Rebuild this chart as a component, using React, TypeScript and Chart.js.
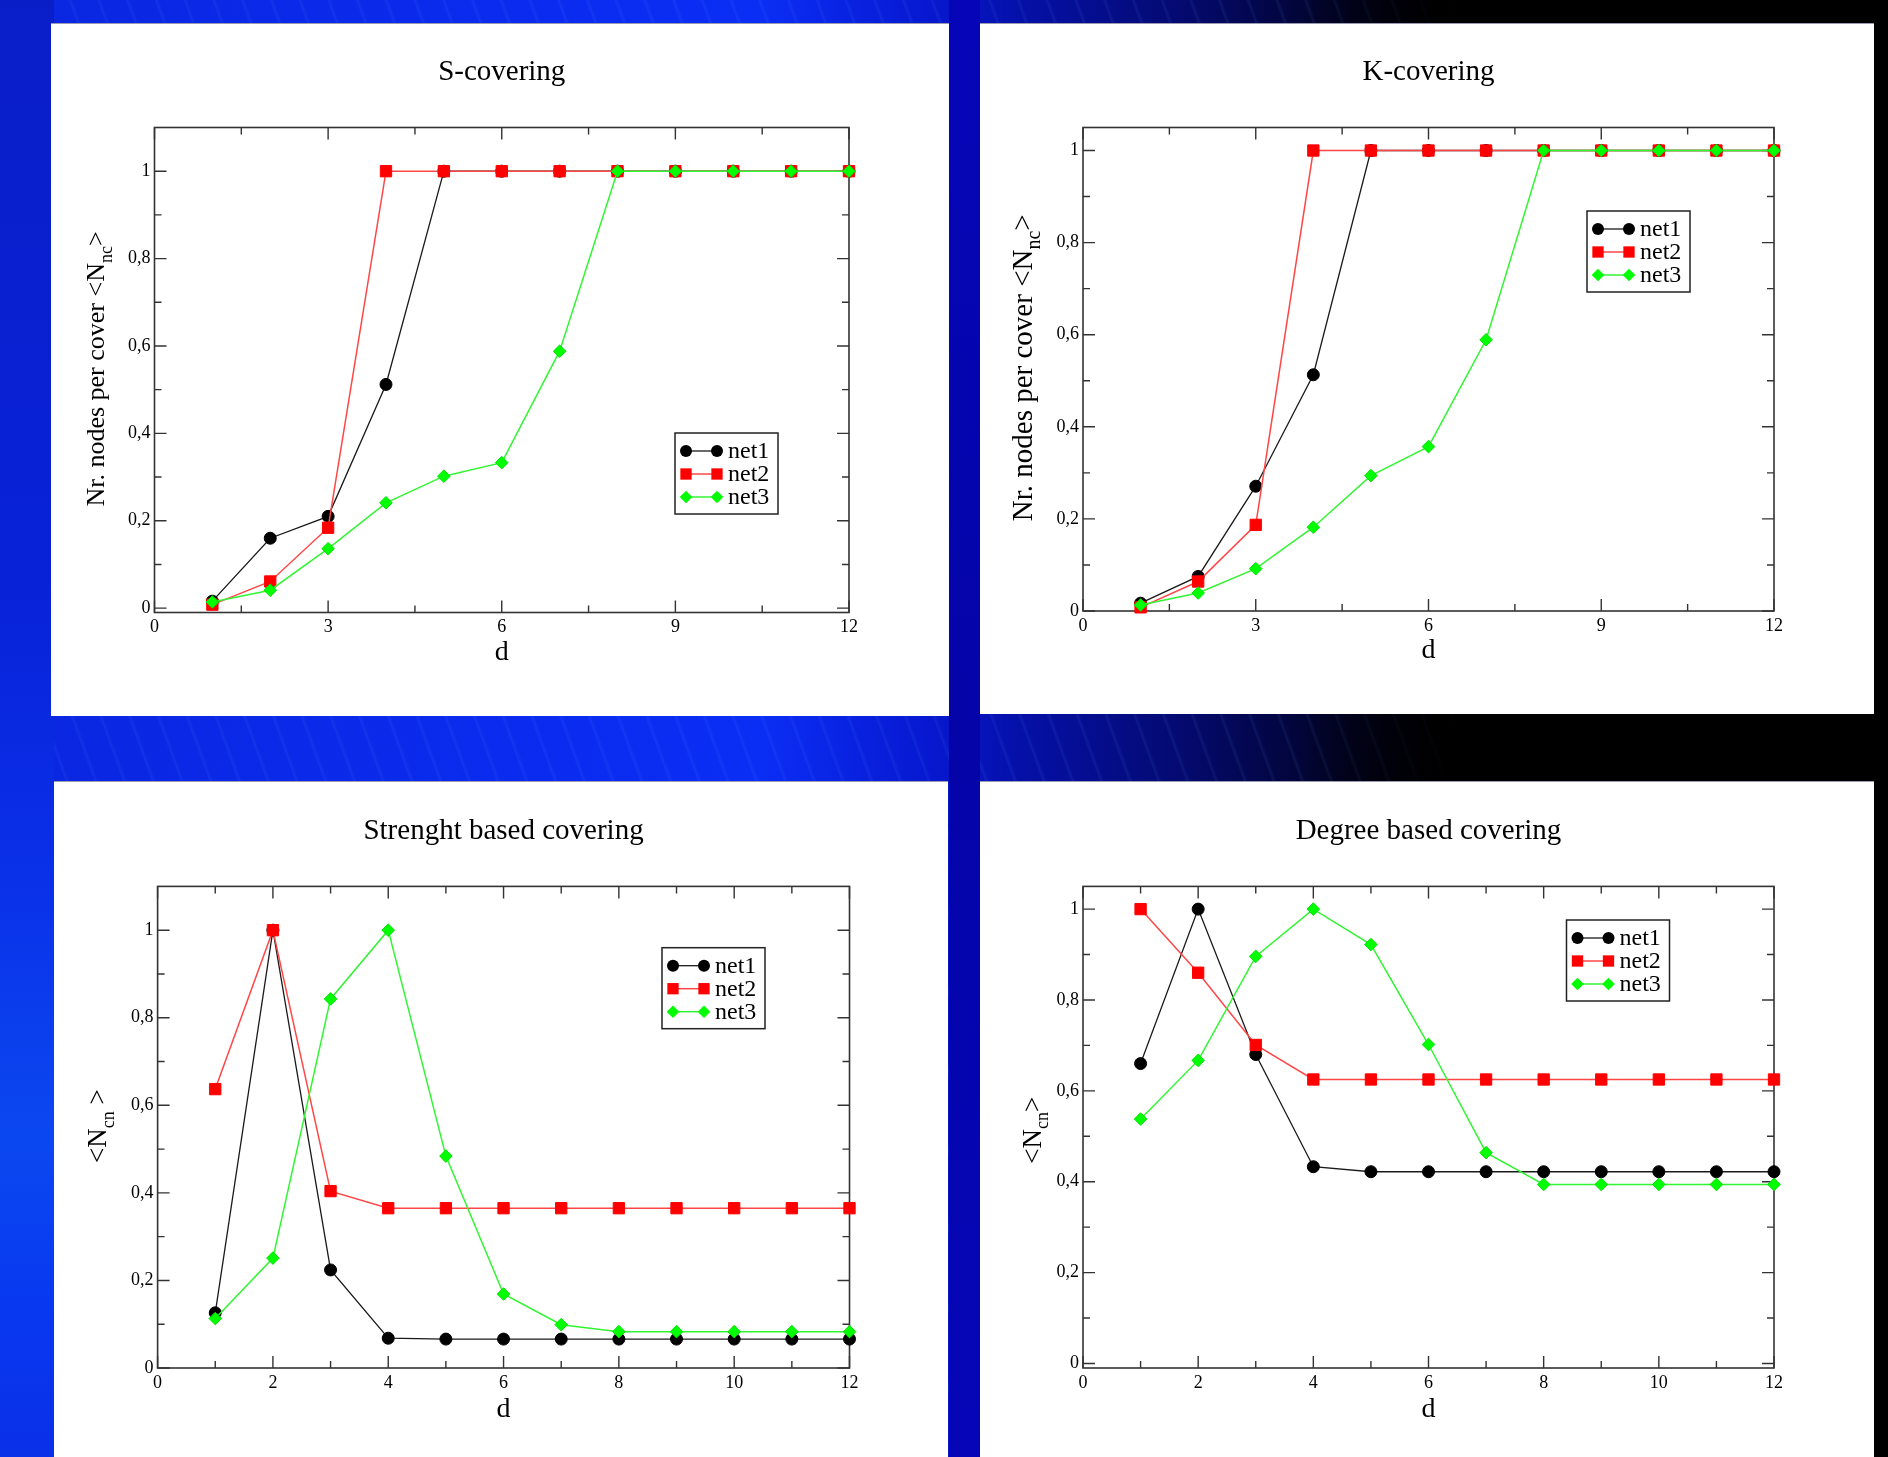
import React, { useEffect, useRef } from 'react';
import { Chart, registerables } from 'chart.js';

Chart.register(...registerables);

const FONT = "'Liberation Serif', 'Times New Roman', Times, serif";

// ---------- data ----------
const D_VALUES = [1, 2, 3, 4, 5, 6, 7, 8, 9, 10, 11, 12];
const SERIES_NAMES = ['net1', 'net2', 'net3'];

const S_NET1 = [0.016, 0.16, 0.21, 0.512, 1, 1, 1, 1, 1, 1, 1, 1];
const S_NET2 = [0.008, 0.061, 0.184, 1, 1, 1, 1, 1, 1, 1, 1, 1];
const S_NET3 = [0.014, 0.041, 0.136, 0.241, 0.302, 0.333, 0.588, 1, 1, 1, 1, 1];

const K_NET1 = [0.017, 0.075, 0.271, 0.513, 1, 1, 1, 1, 1, 1, 1, 1];
const K_NET2 = [0.008, 0.064, 0.187, 1, 1, 1, 1, 1, 1, 1, 1, 1];
const K_NET3 = [0.013, 0.039, 0.092, 0.182, 0.294, 0.357, 0.589, 1, 1, 1, 1, 1];

const ST_NET1 = [0.126, 1, 0.224, 0.068, 0.066, 0.066, 0.066, 0.066, 0.066, 0.066, 0.066, 0.066];
const ST_NET2 = [0.637, 1, 0.404, 0.365, 0.365, 0.365, 0.365, 0.365, 0.365, 0.365, 0.365, 0.365];
const ST_NET3 = [0.113, 0.251, 0.843, 1, 0.484, 0.169, 0.099, 0.083, 0.083, 0.083, 0.083, 0.083];

const DG_NET1 = [0.66, 1, 0.68, 0.433, 0.422, 0.422, 0.422, 0.422, 0.422, 0.422, 0.422, 0.422];
const DG_NET2 = [1, 0.86, 0.701, 0.625, 0.625, 0.625, 0.625, 0.625, 0.625, 0.625, 0.625, 0.625];
const DG_NET3 = [0.538, 0.667, 0.896, 1, 0.922, 0.702, 0.464, 0.394, 0.394, 0.394, 0.394, 0.394];

const X_TICKS_TOP = [0, 3, 6, 9, 12];
const X_TICK_LABELS_TOP = ['0', '3', '6', '9', '12'];
const X_MINOR_TOP = [1.5, 4.5, 7.5, 10.5];
const X_TICKS_BOTTOM = [0, 2, 4, 6, 8, 10, 12];
const X_TICK_LABELS_BOTTOM = ['0', '2', '4', '6', '8', '10', '12'];
const X_MINOR_BOTTOM = [1, 3, 5, 7, 9, 11];
const Y_TICKS = [0, 0.2, 0.4, 0.6, 0.8, 1];
const Y_TICK_LABELS = ['0', '0,2', '0,4', '0,6', '0,8', '1'];
const Y_MINOR = [0.1, 0.3, 0.5, 0.7, 0.9];

const X_TITLE = 'd';

// ---------- styles ----------
const STYLE = [
  { shape: 'circle', r: 6, fill: '#000000', edge: '#000000', line: '#1a1a1a', lw: 1.3 },
  { shape: 'rect', r: 8, fill: '#ff0000', edge: '#ff0000', line: 'rgb(255,70,70)', lw: 1.5 },
  { shape: 'rectRot', r: 6.3, fill: '#00ff00', edge: '#00e000', line: 'rgb(50,245,50)', lw: 1.5 },
];

type Part = { text: string; sub?: boolean };

type PanelCfg = {
  left: number; top: number; width: number; height: number;
  pad: { left: number; right: number; top: number; bottom: number };
  title: string;
  yParts: Part[];
  yFont: number; yDx: number; yDy: number;
  xLabelDy: number;
  xMajor: number[]; xLabels: string[]; xMinor: number[];
  yMin: number; yMax: number;
  series: number[][];
  legendDx: number; legendDy: number;
};

const PANELS: PanelCfg[] = [
  {
    left: 51, top: 23, width: 898, height: 693,
    pad: { left: 103.5, right: 100, top: 103.5, bottom: 103.5 },
    title: 'S-covering',
    yParts: [{ text: 'Nr. nodes per cover <N' }, { text: 'nc', sub: true }, { text: '>' }],
    yFont: 26, yDx: -57, yDy: -1, xLabelDy: 40,
    xMajor: X_TICKS_TOP, xLabels: X_TICK_LABELS_TOP, xMinor: X_MINOR_TOP,
    yMin: -0.01, yMax: 1.1,
    series: [S_NET1, S_NET2, S_NET3],
    legendDx: 520.5, legendDy: 305.5,
  },
  {
    left: 980, top: 23, width: 894, height: 691,
    pad: { left: 103, right: 100, top: 103.5, bottom: 103 },
    title: 'K-covering',
    yParts: [{ text: 'Nr. nodes per cover <N' }, { text: 'nc', sub: true }, { text: '>' }],
    yFont: 29, yDx: -58.5, yDy: -1.5, xLabelDy: 40,
    xMajor: X_TICKS_TOP, xLabels: X_TICK_LABELS_TOP, xMinor: X_MINOR_TOP,
    yMin: 0, yMax: 1.05,
    series: [K_NET1, K_NET2, K_NET3],
    legendDx: 504, legendDy: 83.5,
  },
  {
    left: 54, top: 781, width: 894, height: 676,
    pad: { left: 103.6, right: 98.5, top: 104.4, bottom: 89 },
    title: 'Strenght based covering',
    yParts: [{ text: '<N' }, { text: 'cn', sub: true }, { text: ' >' }],
    yFont: 27, yDx: -58.3, yDy: -1, xLabelDy: 41.5,
    xMajor: X_TICKS_BOTTOM, xLabels: X_TICK_LABELS_BOTTOM, xMinor: X_MINOR_BOTTOM,
    yMin: 0, yMax: 1.1,
    series: [ST_NET1, ST_NET2, ST_NET3],
    legendDx: 504.4, legendDy: 61.3,
  },
  {
    left: 980, top: 781, width: 894, height: 676,
    pad: { left: 103, right: 100, top: 104.4, bottom: 89 },
    title: 'Degree based covering',
    yParts: [{ text: '<N' }, { text: 'cn', sub: true }, { text: '>' }],
    yFont: 27, yDx: -49.5, yDy: 3, xLabelDy: 41.5,
    xMajor: X_TICKS_BOTTOM, xLabels: X_TICK_LABELS_BOTTOM, xMinor: X_MINOR_BOTTOM,
    yMin: -0.01, yMax: 1.05,
    series: [DG_NET1, DG_NET2, DG_NET3],
    legendDx: 483.5, legendDy: 33.6,
  },
];

function drawMarker(ctx: CanvasRenderingContext2D, shape: string, x: number, y: number, r: number, fill: string) {
  ctx.fillStyle = fill;
  ctx.beginPath();
  if (shape === 'circle') {
    ctx.arc(x, y, r, 0, Math.PI * 2);
  } else if (shape === 'rect') {
    const s = r * Math.SQRT1_2;
    ctx.rect(x - s, y - s, 2 * s, 2 * s);
  } else {
    ctx.moveTo(x - r, y);
    ctx.lineTo(x, y - r);
    ctx.lineTo(x + r, y);
    ctx.lineTo(x, y + r);
    ctx.closePath();
  }
  ctx.fill();
}

function makeDeco(cfg: PanelCfg) {
  return {
    id: 'deco',
    beforeDatasetsDraw(chart: any) {
      const { ctx, chartArea: a, scales } = chart;
      ctx.save();
      ctx.strokeStyle = '#333';
      ctx.lineWidth = 1.6;
      ctx.strokeRect(a.left, a.top, a.right - a.left, a.bottom - a.top);
      ctx.lineWidth = 1.4;
      const xt = (vals: number[], len: number) => {
        vals.forEach((v) => {
          const px = scales.x.getPixelForValue(v);
          ctx.beginPath();
          ctx.moveTo(px, a.bottom); ctx.lineTo(px, a.bottom - len);
          ctx.moveTo(px, a.top); ctx.lineTo(px, a.top + len);
          ctx.stroke();
        });
      };
      const yt = (vals: number[], len: number) => {
        vals.forEach((v) => {
          const py = scales.y.getPixelForValue(v);
          ctx.beginPath();
          ctx.moveTo(a.left, py); ctx.lineTo(a.left + len, py);
          ctx.moveTo(a.right, py); ctx.lineTo(a.right - len, py);
          ctx.stroke();
        });
      };
      xt(cfg.xMajor, 12); xt(cfg.xMinor, 7);
      yt(Y_TICKS, 12); yt(Y_MINOR, 7);
      ctx.restore();
    },
    afterDraw(chart: any) {
      const { ctx, chartArea: a } = chart;
      ctx.save();
      ctx.fillStyle = '#000';
      // title
      ctx.font = `29px ${FONT}`;
      ctx.textAlign = 'center';
      ctx.textBaseline = 'middle';
      ctx.fillText(cfg.title, (a.left + a.right) / 2, a.top - 55.5);
      // x title
      ctx.font = `28px ${FONT}`;
      ctx.fillText(X_TITLE, (a.left + a.right) / 2, a.bottom + cfg.xLabelDy);
      // y title with subscript
      const main = `${cfg.yFont}px ${FONT}`;
      const sub = `${Math.round(cfg.yFont * 0.68)}px ${FONT}`;
      ctx.save();
      ctx.translate(a.left + cfg.yDx, (a.top + a.bottom) / 2 + cfg.yDy);
      ctx.rotate(-Math.PI / 2);
      ctx.textAlign = 'left';
      let total = 0;
      cfg.yParts.forEach((p) => { ctx.font = p.sub ? sub : main; total += ctx.measureText(p.text).width; });
      let x = -total / 2;
      cfg.yParts.forEach((p) => {
        ctx.font = p.sub ? sub : main;
        ctx.fillText(p.text, x, p.sub ? cfg.yFont * 0.36 : 0);
        x += ctx.measureText(p.text).width;
      });
      ctx.restore();
      // legend
      const lx = a.left + cfg.legendDx;
      const ly = a.top + cfg.legendDy;
      const lw = 103, lh = 81;
      ctx.fillStyle = '#fff';
      ctx.fillRect(lx, ly, lw, lh);
      ctx.strokeStyle = '#222';
      ctx.lineWidth = 1.5;
      ctx.strokeRect(lx, ly, lw, lh);
      const rows = [18, 41, 64];
      SERIES_NAMES.forEach((name, i) => {
        const st = STYLE[i];
        const y = ly + rows[i];
        ctx.strokeStyle = st.line;
        ctx.lineWidth = st.lw;
        ctx.beginPath();
        ctx.moveTo(lx + 11, y); ctx.lineTo(lx + 42, y);
        ctx.stroke();
        drawMarker(ctx, st.shape, lx + 11, y, st.r, st.fill);
        drawMarker(ctx, st.shape, lx + 42, y, st.r, st.fill);
        ctx.fillStyle = '#000';
        ctx.font = `24px ${FONT}`;
        ctx.textAlign = 'left';
        ctx.textBaseline = 'middle';
        ctx.fillText(name, lx + 53, y + 1);
      });
      ctx.restore();
    },
  };
}

function Panel({ cfg }: { cfg: PanelCfg }) {
  const ref = useRef<HTMLCanvasElement | null>(null);
  useEffect(() => {
    const canvas = ref.current;
    if (!canvas) return;
    const datasets = cfg.series.map((vals, i) => ({
      label: SERIES_NAMES[i],
      data: D_VALUES.map((d, j) => ({ x: d, y: vals[j] })),
      borderColor: STYLE[i].line,
      borderWidth: STYLE[i].lw,
      pointStyle: STYLE[i].shape,
      pointRadius: STYLE[i].r,
      pointBackgroundColor: STYLE[i].fill,
      pointBorderColor: STYLE[i].edge,
      pointBorderWidth: 1,
      tension: 0,
      fill: false,
      clip: false,
      order: 3 - i,
    }));
    const tickFont = { family: FONT, size: 18 };
    const chart = new Chart(canvas, {
      type: 'line',
      data: { datasets } as any,
      options: {
        animation: false,
        responsive: false,
        maintainAspectRatio: false,
        events: [],
        layout: { padding: { left: 0, right: cfg.pad.right, top: cfg.pad.top, bottom: 0 } },
        plugins: { legend: { display: false }, title: { display: false }, tooltip: { enabled: false } },
        scales: {
          x: {
            type: 'linear', min: 0, max: 12,
            grid: { display: false, drawTicks: false, tickLength: 0 },
            border: { display: false },
            afterFit: (s: any) => { s.height = cfg.pad.bottom; },
            afterBuildTicks: (s: any) => { s.ticks = cfg.xMajor.map((v) => ({ value: v })); },
            ticks: {
              font: tickFont, color: '#000', padding: 4, maxRotation: 0, autoSkip: false,
              callback: (_v: any, i: number) => cfg.xLabels[i],
            },
          },
          y: {
            type: 'linear', min: cfg.yMin, max: cfg.yMax,
            grid: { display: false, drawTicks: false, tickLength: 0 },
            border: { display: false },
            afterFit: (s: any) => { s.width = cfg.pad.left; },
            afterBuildTicks: (s: any) => { s.ticks = Y_TICKS.map((v) => ({ value: v })); },
            ticks: {
              font: tickFont, color: '#000', padding: 4, autoSkip: false,
              callback: (_v: any, i: number) => Y_TICK_LABELS[i],
            },
          },
        },
      } as any,
      plugins: [makeDeco(cfg)],
    });
    return () => chart.destroy();
  }, [cfg]);
  return (
    <div style={{ position: 'absolute', left: cfg.left, top: cfg.top, width: cfg.width, height: cfg.height, background: '#fff', borderTop: '1px solid #9a9ab0', boxSizing: 'border-box' }}>
      <canvas ref={ref} width={cfg.width} height={cfg.height - 1} style={{ display: 'block' }} />
    </div>
  );
}

export default function App() {
  return (
    <div
      style={{
        position: 'absolute', left: 0, top: 0, width: 1888, height: 1457, overflow: 'hidden',
        background:
          'repeating-linear-gradient(70deg, rgba(90,150,255,0) 0px, rgba(90,150,255,0) 22px, rgba(90,150,255,0.10) 24px, rgba(90,150,255,0) 27px), linear-gradient(90deg, #0a26e0 0px, #0b2ef5 760px, #0718d0 930px, #0510a8 1020px, #040a70 1180px, #020430 1320px, #000008 1440px, #000 1888px)',
      }}
    >
      <div style={{ position: 'absolute', left: 1300, top: 0, width: 588, height: 1457, background: 'linear-gradient(90deg, rgba(0,0,0,0) 0px, #000 160px)' }} />
      <div style={{ position: 'absolute', left: 0, top: 0, width: 54, height: 1457, background: 'linear-gradient(180deg, #0a1ec8 0%, #0822d8 40%, #0a30e8 60%, #0b48f0 78%, #0838f0 90%, #0a30e8 100%)' }} />
      <div style={{ position: 'absolute', left: 949, top: 0, width: 31, height: 1457, background: 'linear-gradient(180deg, #0606b8 0%, #0404a8 50%, #0606b8 100%)' }} />
      {PANELS.map((p, i) => <Panel key={i} cfg={p} />)}
    </div>
  );
}
